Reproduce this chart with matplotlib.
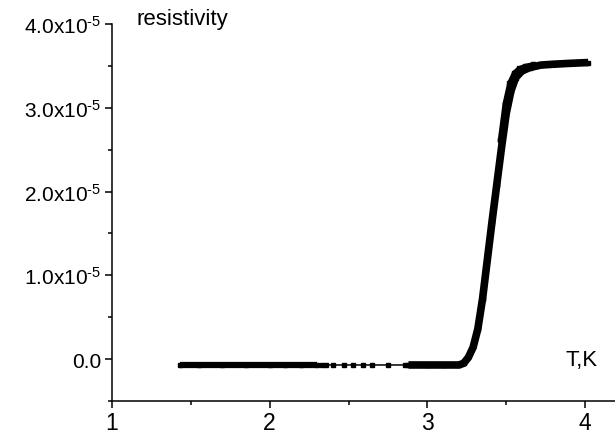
import numpy as np
import matplotlib
matplotlib.use("Agg")
import matplotlib.pyplot as plt
from matplotlib.ticker import MultipleLocator, FuncFormatter

plt.rcParams['font.family'] = ['Liberation Sans', 'DejaVu Sans']
plt.rcParams['mathtext.default'] = 'regular'

# temperature (K) and resistivity (units of 1e-5), main sweep
T = [1.43, 1.55, 1.70, 1.85, 2.00, 2.10, 2.20, 2.30,
     2.33, 2.36, 2.40, 2.47, 2.53, 2.59, 2.65, 2.75, 2.86,
     2.88, 3.00, 3.10, 3.20, 3.23, 3.26, 3.29, 3.32, 3.35, 3.38,
     3.41, 3.44, 3.47, 3.50, 3.53, 3.56, 3.60, 3.65, 3.72, 3.80,
     3.90, 4.02]
rho = [-0.07, -0.07, -0.07, -0.07, -0.07, -0.07, -0.07, -0.07,
       -0.07, -0.07, -0.07, -0.07, -0.07, -0.07, -0.07, -0.07, -0.07,
       -0.07, -0.07, -0.07, -0.07, -0.05, 0.02, 0.14, 0.36, 0.72, 1.18,
       1.64, 2.08, 2.52, 2.93, 3.20, 3.36, 3.44, 3.48, 3.51, 3.52,
       3.53, 3.54]

# second sweep near the knee
T2 = [3.46, 3.49, 3.52, 3.55, 3.58, 3.62, 3.67]
rho2 = [2.62, 3.05, 3.30, 3.42, 3.47, 3.50, 3.52]

T = np.array(T)
rho = np.array(rho) * 1e-5
T2 = np.array(T2)
rho2 = np.array(rho2) * 1e-5

fig = plt.figure(figsize=(6.15, 4.35), dpi=100)
ax = fig.add_axes([112/615, 1 - 402/435, 1 - 112/615, (402 - 25)/435])

ax.plot(T, rho, color='black', lw=1.1, marker='s', ms=3.4, zorder=3)
lo = T <= 2.30
hi = T >= 2.88
ax.plot(T[lo], rho[lo], color='black', lw=4.5, solid_capstyle='butt', zorder=3)
ax.plot(T[hi], rho[hi], color='black', lw=5.5, solid_capstyle='butt',
        solid_joinstyle='round', zorder=3)
ax.plot(T2, rho2, color='black', lw=3, marker='s', ms=3.5, zorder=3)

ax.set_xlim(1, 4.19)
ax.set_ylim(-0.5e-5, 4.0e-5)

for s in ['top', 'right']:
    ax.spines[s].set_visible(False)
for s in ['left', 'bottom']:
    ax.spines[s].set_linewidth(1.1)

ax.xaxis.set_major_locator(MultipleLocator(1))
ax.xaxis.set_minor_locator(MultipleLocator(0.5))
ax.yaxis.set_major_locator(MultipleLocator(1e-5))
ax.yaxis.set_minor_locator(MultipleLocator(0.5e-5))


def yfmt(v, pos):
    m = v / 1e-5
    if abs(m) < 1e-9:
        return "0.0"
    return "%.1fx10$^{\u2010 5}$" % m


ax.yaxis.set_major_formatter(FuncFormatter(yfmt))
ax.xaxis.set_major_formatter(FuncFormatter(lambda v, p: "%d" % v))
ax.tick_params(which='major', direction='out', length=5, width=1.1, pad=3)
ax.tick_params(axis='y', labelsize=15)
ax.tick_params(axis='x', labelsize=16.5, pad=2)
ax.tick_params(which='minor', direction='out', length=3, width=1.1)

fig.text(136/615, 1 - 25/435, "resistivity", fontsize=16, va='baseline')
fig.text(566/615, 1 - 366/435, "T,K", fontsize=16, va='baseline')

fig.savefig("out.png", dpi=100)
